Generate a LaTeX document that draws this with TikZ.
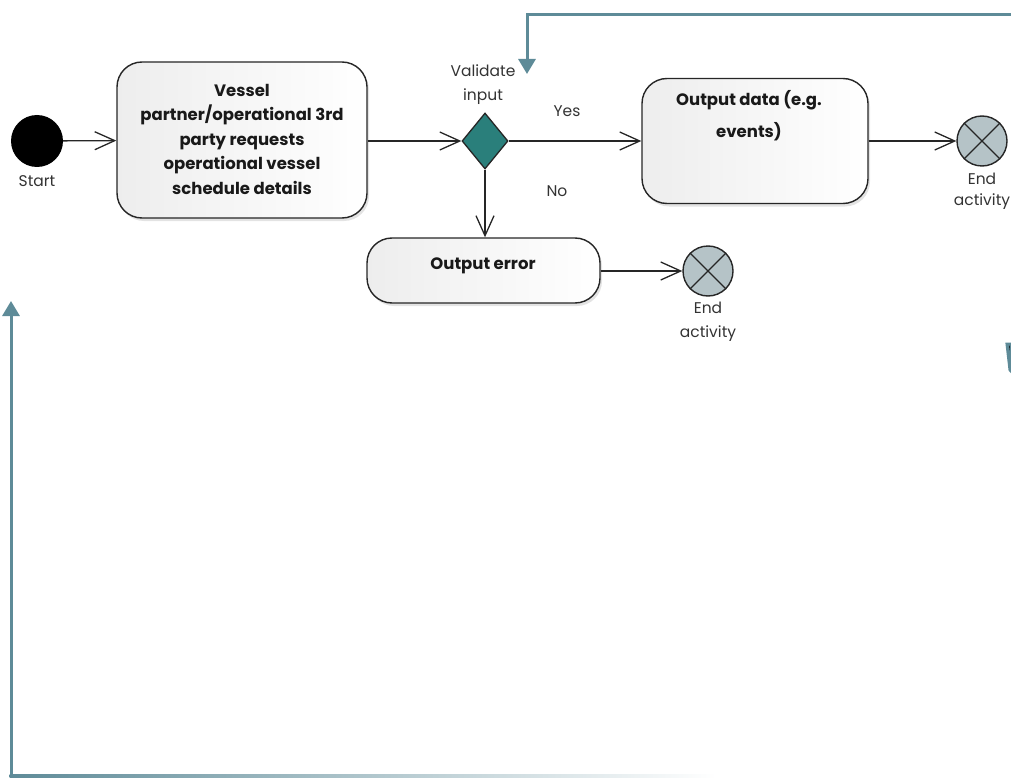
\documentclass[tikz,border=0pt]{standalone}
\usepackage{fontspec}
\setmainfont{Poppins}
\usetikzlibrary{arrows.meta,shapes.geometric,shadows}
\definecolor{deco}{HTML}{5E8B98}
\definecolor{teal}{HTML}{2A7F7B}
\definecolor{endfill}{HTML}{B5C3C7}
\tikzset{
  act/.style={draw=black!85, line width=1.4pt, rounded corners=25pt,
    left color=black!7, right color=white, inner sep=0pt,
    drop shadow={opacity=0.22, shadow xshift=2pt, shadow yshift=-3pt}},
  flow/.style={draw=black!85, line width=1.3pt, -{Straight Barb[length=20pt,width=18pt,line width=1.3pt]}},
  deco/.style={draw=deco, line width=3pt, -{Triangle[length=15pt,width=17pt]}},
  lab/.style={font=\fontsize{15.5}{24}\selectfont, text=black!80, align=center, inner sep=0pt},
  blab/.style={font=\fontsize{16.5}{24.5}\selectfont\bfseries, text=black!90, align=center, inner sep=0pt},
  endnode/.style={circle, draw=black!85, line width=1.4pt, fill=endfill, minimum size=50pt, inner sep=0pt}
}
\begin{document}
\begin{tikzpicture}[x=1pt,y=-1pt]
\useasboundingbox (0,0) rectangle (1011,778);
% background decorations
\coordinate (topR) at (1015,15);
\coordinate (topC) at (527,15);
\coordinate (topT) at (527,74);
\draw[deco] (topR) -- (topC) -- (topT);
\coordinate (leftB) at (11,776);
\coordinate (leftT) at (11,301);
\draw[deco] (leftB) -- (leftT);
\shade[left color=deco, right color=white] (9.5,774.5) rectangle (716,777.5);
\fill[deco] (1007,344) -- (1011,344) -- (1011,371) -- (1010,370) -- cycle;

% nodes
\node[circle, fill=black, minimum size=52pt, inner sep=0pt] (start) at (37,141) {};
\node[lab, anchor=center] (startlab) at (37,181) {Start};

\node[act, minimum width=250pt, minimum height=156pt] (req) at (242,140) {};
\node[blab] (reqtxt) at (242,139) {Vessel\\partner/operational 3rd\\party requests\\operational vessel\\schedule details};

\node[diamond, draw=black!85, line width=1.3pt, fill=teal, minimum width=46pt, minimum height=56pt, inner sep=0pt] (dec) at (485,141) {};
\node[lab] (declab) at (483,85) {Validate\\input};

\node[act, minimum width=226pt, minimum height=125pt] (out) at (755,141) {};
\node[blab, font=\fontsize{16.5}{32}\selectfont\bfseries] (outtxt) at (749,116) {Output data (e.g.\\events)};

\node[endnode] (end1) at (982,141) {};
\draw[black!85, line width=1.3pt] (end1.north west) -- (end1.south east) (end1.north east) -- (end1.south west);
\node[lab, font=\fontsize{15.5}{21}\selectfont] (end1lab) at (982,191) {End\\activity};

\node[act, minimum width=233pt, minimum height=65pt] (err) at (483.5,270.5) {};
\node[blab] (errtxt) at (483,266) {Output error};

\node[endnode] (end2) at (708,271) {};
\draw[black!85, line width=1.3pt] (end2.north west) -- (end2.south east) (end2.north east) -- (end2.south west);
\node[lab, font=\fontsize{15.5}{24}\selectfont] (end2lab) at (708,322) {End\\activity};

\node[lab] (yes) at (567,111) {Yes};
\node[lab] (no) at (557,191) {No};

% connectors
\draw[flow] (start) -- (req);
\draw[flow] (req.east |- dec) -- (dec.west);
\draw[flow] (dec.east) -- (out.west |- dec);
\draw[flow] (out.east |- end1) -- (end1);
\draw[flow] (dec.south) -- (dec.south |- err.north);
\draw[flow] (err.east |- end2) -- (end2);
\end{tikzpicture}
\end{document}
